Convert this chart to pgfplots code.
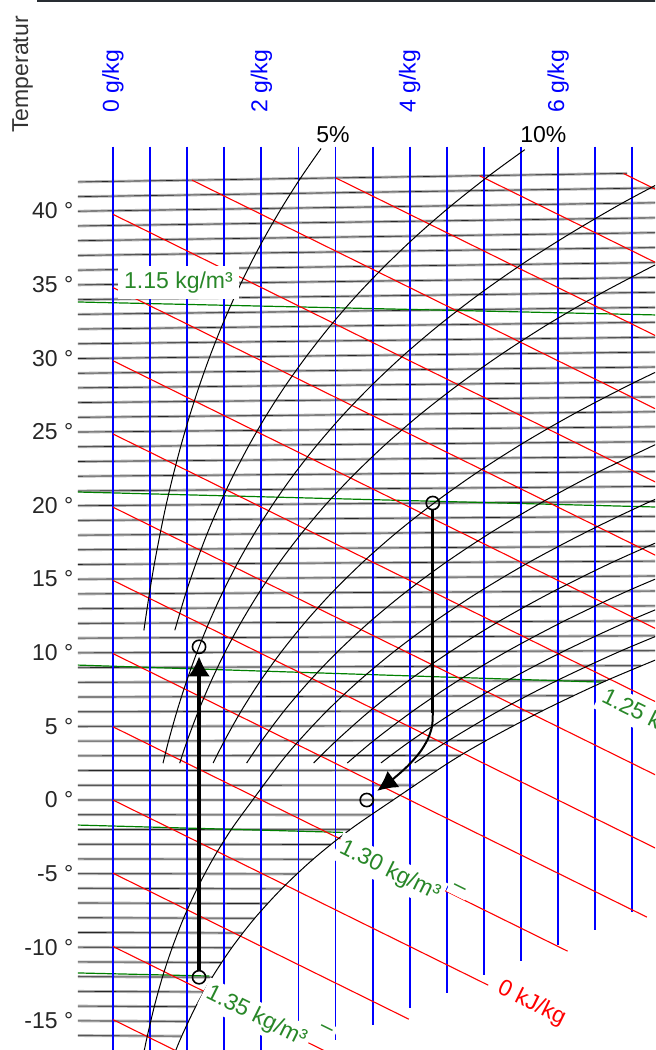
\documentclass[border=0pt]{standalone}
\usepackage{fontspec}
\setmainfont{Liberation Sans}
\usepackage{pgfplots}
\pgfplotsset{compat=1.18}
\usetikzlibrary{arrows.meta}

\definecolor{isoline}{gray}{0.70}
\definecolor{rholine}{RGB}{0,128,0}
\definecolor{rhotext}{RGB}{40,135,40}
\definecolor{topframe}{RGB}{40,45,50}

\tikzset{
  lab/.style={font=\fontsize{11.5}{13.8}\selectfont, inner sep=0pt},
  rholab/.style={lab, text=rhotext, fill=white, rotate=-26.3, anchor=west, inner sep=2pt},
  rhodash/.style={lab, text=rhotext, fill=white, rotate=-26.3, inner sep=2pt},
}
\pgfplotsset{
  iso/.style={mark=none, color=black!85, line width=0.3pt,
    preaction={draw, color=isoline, line width=1.4pt}},
  xline/.style={mark=none, color=blue, line width=0.9pt},
  hline/.style={mark=none, color=red, line width=0.55pt},
  rho/.style={mark=none, color=rholine, line width=0.6pt},
  rh/.style={mark=none, color=black, line width=0.5pt, smooth},
}

\begin{document}
\begin{tikzpicture}
\useasboundingbox (0,0) rectangle (327.5pt,525pt);
\clip (0,0) rectangle (327.5pt,525pt);
\begin{axis}[
  at={(0pt,0pt)}, anchor=south west,
  scale only axis, width=327.5pt, height=525pt,
  xmin=-1.523, xmax=7.305, ymin=-16.97, ymax=54.31,
  hide axis, clip=false, unbounded coords=jump,
]

% isotherms, 1 K apart (x in g/kg, skewed enthalpy coordinate)
\addplot[iso] coordinates {
(-0.472,-15.99) (0.926,-16.03) (0,nan)
(-0.472,-14.99) (1.016,-15.03) (0,nan)
(-0.472,-13.99) (1.114,-14.03) (0,nan)
(-0.472,-12.99) (1.221,-13.03) (0,nan)
(-0.472,-11.99) (1.337,-12.03) (0,nan)
(-0.472,-10.99) (1.463,-11.03) (0,nan)
(-0.472,-9.99) (1.600,-10.03) (0,nan)
(-0.472,-8.99) (1.748,-9.03) (0,nan)
(-0.472,-7.99) (1.909,-8.03) (0,nan)
(-0.472,-6.99) (2.083,-7.03) (0,nan)
(-0.472,-5.99) (2.272,-6.03) (0,nan)
(-0.472,-5.00) (2.476,-5.02) (0,nan)
(-0.472,-4.00) (2.697,-4.02) (0,nan)
(-0.472,-3.00) (2.936,-3.02) (0,nan)
(-0.472,-2.00) (3.194,-2.01) (0,nan)
(-0.472,-1.00) (3.473,-1.01) (0,nan)
(-0.472,0.00) (3.775,0.00) (0,nan)
(-0.472,1.00) (4.061,1.01) (0,nan)
(-0.472,2.00) (4.364,2.02) (0,nan)
(-0.472,3.00) (4.688,3.03) (0,nan)
(-0.472,4.00) (5.030,4.04) (0,nan)
(-0.472,5.00) (5.398,5.05) (0,nan)
(-0.472,5.99) (5.789,6.06) (0,nan)
(-0.472,6.99) (6.205,7.08) (0,nan)
(-0.472,7.99) (6.647,8.10) (0,nan)
(-0.472,8.99) (7.119,9.12) (0,nan)
(-0.472,9.99) (7.4,10.14) (0,nan)
(-0.472,10.99) (7.4,11.15) (0,nan)
(-0.472,11.99) (7.4,12.16) (0,nan)
(-0.472,12.99) (7.4,13.18) (0,nan)
(-0.472,13.99) (7.4,14.19) (0,nan)
(-0.472,14.99) (7.4,15.21) (0,nan)
(-0.472,15.99) (7.4,16.22) (0,nan)
(-0.472,16.99) (7.4,17.23) (0,nan)
(-0.472,17.98) (7.4,18.25) (0,nan)
(-0.472,18.98) (7.4,19.26) (0,nan)
(-0.472,19.98) (7.4,20.27) (0,nan)
(-0.472,20.98) (7.4,21.29) (0,nan)
(-0.472,21.98) (7.4,22.30) (0,nan)
(-0.472,22.98) (7.4,23.31) (0,nan)
(-0.472,23.98) (7.4,24.33) (0,nan)
(-0.472,24.98) (7.4,25.34) (0,nan)
(-0.472,25.98) (7.4,26.36) (0,nan)
(-0.472,26.98) (7.4,27.37) (0,nan)
(-0.472,27.98) (7.4,28.38) (0,nan)
(-0.472,28.97) (7.4,29.40) (0,nan)
(-0.472,29.97) (7.4,30.41) (0,nan)
(-0.472,30.97) (7.4,31.42) (0,nan)
(-0.472,31.97) (7.4,32.44) (0,nan)
(-0.472,32.97) (7.4,33.45) (0,nan)
(-0.472,33.97) (7.4,34.47) (0,nan)
(-0.472,34.97) (7.4,35.48) (0,nan)
(-0.472,35.97) (7.4,36.49) (0,nan)
(-0.472,36.97) (7.4,37.51) (0,nan)
(-0.472,37.97) (7.4,38.52) (0,nan)
(-0.472,38.97) (7.4,39.53) (0,nan)
(-0.472,39.97) (7.4,40.55) (0,nan)
(-0.472,40.96) (7.4,41.56) (0,nan)
(-0.472,41.96) (6.93,42.54)
};

% lines of constant density
\addplot[rho] coordinates {(-0.472,33.81) (7.4,32.92) (0,nan)
  (-0.472,20.91) (7.4,19.88) (0,nan)
  (-0.472,9.16) (6.6,8.00) (0,nan)
  (-0.472,-1.70) (3.1,-2.20) (0,nan)
  (-0.472,-11.74) (1.3,-11.95)};

% lines of constant humidity ratio, every 0.5 g/kg
\addplot[xline] coordinates {
(0,44.35) (0,-17.5) (0,nan)
(0.5,44.35) (0.5,-17.5) (0,nan)
(1,44.35) (1,-17.5) (0,nan)
(1.5,44.35) (1.5,-17.5) (0,nan)
(2,44.35) (2,-17.5) (0,nan)
(2.5,44.35) (2.5,-17.5) (0,nan)
(3,44.35) (3,-16.3) (0,nan)
(3.5,44.35) (3.5,-15.27) (0,nan)
(4,44.35) (4,-14.12) (0,nan)
(4.5,44.35) (4.5,-13.1) (0,nan)
(5,44.35) (5,-11.9) (0,nan)
(5.5,44.35) (5.5,-10.9) (0,nan)
(6,44.35) (6,-9.84) (0,nan)
(6.5,44.35) (6.5,-8.83) (0,nan)
(7,44.35) (7,-7.6)
};

% lines of constant enthalpy, every 5 kJ/kg
\addplot[hline] coordinates {
(0,-14.91) (1.5,-18.64) (0,nan)
(0,-9.94) (2.918,-17.19) (0,nan)
(0,-4.97) (3.988,-14.88) (0,nan)
(0,0) (5.057,-12.57) (0,nan)
(0,4.97) (6.127,-10.26) (0,nan)
(0,9.94) (7.196,-7.95) (0,nan)
(0,14.91) (7.5,-3.735) (0,nan)
(0,19.88) (7.5,1.235) (0,nan)
(0,24.85) (7.5,6.205) (0,nan)
(0,29.82) (7.5,11.175) (0,nan)
(0,34.79) (7.5,16.145) (0,nan)
(0,39.76) (7.5,21.115) (0,nan)
(1.065,42.08) (7.5,26.085) (0,nan)
(3.003,42.23) (7.5,31.055) (0,nan)
(4.942,42.38) (7.5,36.025) (0,nan)
(6.881,42.53) (7.5,40.995)
};

% relative humidity curves
\addplot[rh] coordinates {(0.416,11.51) (0.490,14.01) (0.557,16.02) (0.633,18.02) (0.716,20.03) (0.810,22.03) (0.915,24.04) (1.031,26.05) (1.160,28.06) (1.302,30.07) (1.460,32.09) (1.634,34.10) (1.826,36.12) (2.037,38.14) (2.270,40.17) (2.525,42.20) (2.804,44.23)};
\addplot[rh] coordinates {(0.833,11.52) (0.981,14.03) (1.116,16.03) (1.266,18.04) (1.436,20.05) (1.624,22.07) (1.833,24.08) (2.065,26.10) (2.323,28.12) (2.610,30.14) (2.926,32.17) (3.276,34.21) (3.662,36.24) (4.088,38.29) (4.557,40.34) (5.071,42.39) (5.55,44.15)};
\addplot[rh] coordinates {(0.674,2.50) (0.749,4.01) (0.861,6.01) (0.988,8.01) (1.131,10.02) (1.292,12.03) (1.473,14.04) (1.675,16.05) (1.902,18.06) (2.156,20.08) (2.438,22.10) (2.753,24.12) (3.103,26.15) (3.492,28.18) (3.923,30.22) (4.400,32.26) (4.928,34.31) (5.511,36.37) (6.154,38.43) (6.860,40.51) (7.635,42.59)};
\addplot[rh] coordinates {(0.899,2.50) (0.999,4.01) (1.149,6.01) (1.318,8.02) (1.509,10.03) (1.724,12.04) (1.965,14.05) (2.235,16.07) (2.538,18.08) (2.877,20.11) (3.256,22.13) (3.677,24.16) (4.146,26.20) (4.667,28.24) (5.243,30.29) (5.879,32.35) (6.583,34.41) (7.369,36.49)};
\addplot[rh] coordinates {(1.350,2.51) (1.501,4.01) (1.725,6.02) (1.979,8.03) (2.266,10.04) (2.589,12.06) (2.951,14.08) (3.358,16.10) (3.816,18.13) (4.327,20.16) (4.897,22.20) (5.534,24.25) (6.243,26.30) (7.032,28.36) (7.900,30.44)};
\addplot[rh] coordinates {(1.801,2.51) (2.003,4.01) (2.303,6.03) (2.642,8.04) (3.026,10.06) (3.457,12.08) (3.942,14.10) (4.486,16.13) (5.098,18.17) (5.781,20.21) (6.544,22.27) (7.396,24.33)};
\addplot[rh] coordinates {(0.421,-17.01) (0.463,-16.01) (0.557,-14.01) (0.667,-12.01) (0.799,-10.01) (0.953,-8.01) (1.134,-6.01) (1.346,-4.01) (1.593,-2.01) (1.882,0) (2.253,2.51) (2.505,4.02) (2.880,6.03) (3.306,8.05) (3.786,10.07) (4.327,12.10) (4.935,14.13) (5.619,16.17) (6.386,18.21) (7.244,20.27) (8.203,22.33)};
\addplot[rh] coordinates {(2.704,2.51) (3.009,4.02) (3.461,6.04) (3.971,8.06) (4.550,10.08) (5.200,12.12) (5.931,14.15) (6.757,16.20) (7.681,18.26)};
\addplot[rh] coordinates {(3.158,2.51) (3.514,4.03) (4.042,6.04) (4.640,8.07) (5.314,10.10) (6.074,12.13) (6.931,14.18) (7.897,16.23)};
\addplot[rh] coordinates {(3.612,2.52) (4.018,4.03) (4.623,6.05) (5.307,8.08) (6.079,10.11) (6.952,12.15) (7.936,14.21)};
\addplot[rh] coordinates {(4.067,2.52) (4.522,4.03) (5.205,6.06) (5.977,8.09) (6.850,10.13) (7.831,12.17)};
\addplot[rh] coordinates {(0.843,-17.03) (0.926,-16.03) (1.114,-14.03) (1.337,-12.03) (1.600,-10.03) (1.909,-8.03) (2.272,-6.03) (2.697,-4.02) (3.194,-2.01) (3.775,0) (4.521,2.52) (5.030,4.04) (5.789,6.06) (6.647,8.10) (7.619,10.14)};

% top frame line
\addplot[mark=none, color=topframe, line width=0.9pt] coordinates {(-1.02,54.22) (7.4,54.22)};

% process 1: heating from -12 to about 10 degrees
\addplot[mark=none, line width=1.6pt, -{Latex[length=10pt,width=11pt]}] coordinates {(1.16,-11.6) (1.16,9.75)};
% process 2: cooling and dehumidifying
\addplot[mark=none, line width=1.5pt] coordinates {(4.31,19.73) (4.31,5.9)};
\addplot[mark=none, line width=1.0pt, smooth, -{Latex[length=10pt,width=10pt]}] coordinates {(4.31,5.9) (4.30,5.0) (4.24,4.1) (4.13,3.2) (3.97,2.3) (3.78,1.45) (3.56,0.62)};
% state points
\addplot[only marks, mark=o, mark size=3.3pt, mark options={line width=0.8pt, draw=black, fill=none}] coordinates {(1.16,-12.03) (1.16,10.4) (4.31,20.16) (3.42,0.0)};

% labels
\node[lab, text=rhotext, fill=white, inner xsep=3pt, inner ysep=3pt] at (axis cs:0.883,35.12) {1.15 kg/m³};
\node[rholab] at (axis cs:6.553,7.16) {1.25 kg/m³};
\node[rholab] at (axis cs:3.02,-3.06) {1.30 kg/m³};
\node[rhodash] at (axis cs:4.66,-6.05) {–};
\node[rholab] at (axis cs:1.221,-12.93) {1.35 kg/m³};
\node[rhodash] at (axis cs:2.87,-15.62) {–};
\node[rholab, text=red] at (axis cs:5.15,-12.59) {0 kJ/kg};

\node[lab, text=blue, rotate=90, anchor=west] at (axis cs:0,46.64) {0 g/kg};
\node[lab, text=blue, rotate=90, anchor=west] at (axis cs:2,46.64) {2 g/kg};
\node[lab, text=blue, rotate=90, anchor=west] at (axis cs:4,46.64) {4 g/kg};
\node[lab, text=blue, rotate=90, anchor=west] at (axis cs:6,46.64) {6 g/kg};

\node[lab, text=black!80, rotate=90, anchor=west] at (axis cs:-1.22,45.28) {Temperatur};
\node[lab] at (axis cs:2.965,45.2) {5\%};
\node[lab] at (axis cs:5.80,45.15) {10\%};

\node[lab, anchor=east, text=black!85] at (axis cs:-0.53,40) {40 °};
\node[lab, anchor=east, text=black!85] at (axis cs:-0.53,35) {35 °};
\node[lab, anchor=east, text=black!85] at (axis cs:-0.53,30) {30 °};
\node[lab, anchor=east, text=black!85] at (axis cs:-0.53,25) {25 °};
\node[lab, anchor=east, text=black!85] at (axis cs:-0.53,20) {20 °};
\node[lab, anchor=east, text=black!85] at (axis cs:-0.53,15) {15 °};
\node[lab, anchor=east, text=black!85] at (axis cs:-0.53,10) {10 °};
\node[lab, anchor=east, text=black!85] at (axis cs:-0.53,5) {5 °};
\node[lab, anchor=east, text=black!85] at (axis cs:-0.53,0) {0 °};
\node[lab, anchor=east, text=black!85] at (axis cs:-0.53,-5) {-5 °};
\node[lab, anchor=east, text=black!85] at (axis cs:-0.53,-10) {-10 °};
\node[lab, anchor=east, text=black!85] at (axis cs:-0.53,-15) {-15 °};
\end{axis}
\end{tikzpicture}
\end{document}
